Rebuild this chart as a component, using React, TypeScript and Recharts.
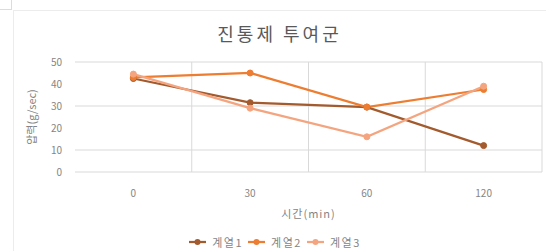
import { CartesianGrid, Legend, Line, LineChart, XAxis, YAxis } from 'recharts'

const times = ['0', '30', '60', '120']
const series1 = [42.5, 31.5, 29.5, 12]
const series2 = [43, 45, 29.5, 37.5]
const series3 = [44.5, 29, 16, 39]
const yTicks = [0, 10, 20, 30, 40, 50]

const seriesNames = ['계열1', '계열2', '계열3']
const seriesColors = ['#A35A2D', '#ED7D31', '#F4A580']

const data = times.map((t, i) => ({
  time: t,
  s1: series1[i],
  s2: series2[i],
  s3: series3[i],
}))

const font = '"Noto Sans CJK KR", "Noto Sans", sans-serif'
const textGray = '#858585'

function LegendBox() {
  return (
    <div
      style={{
        height: 18,
        display: 'flex',
        justifyContent: 'center',
        alignItems: 'center',
        fontFamily: font,
        fontSize: 11,
        letterSpacing: 1.5,
        color: textGray,
      }}
    >
      {seriesNames.map((name, i) => (
        <span key={name} style={{ display: 'flex', alignItems: 'center', marginRight: 5 }}>
          <svg width={17} height={8} style={{ marginRight: 6 }}>
            <line x1={0} y1={4} x2={17} y2={4} stroke={seriesColors[i]} strokeWidth={2.25} />
            <circle cx={8.5} cy={4} r={3} fill={seriesColors[i]} />
          </svg>
          {name}
        </span>
      ))}
    </div>
  )
}

export default function App() {
  return (
    <div
      style={{
        position: 'fixed',
        left: 0,
        top: 0,
        width: 546,
        height: 251,
        background: '#fff',
        overflow: 'hidden',
      }}
    >
      {/* spreadsheet cell corner */}
      <div style={{ position: 'absolute', left: 0, top: 0, width: 11, height: 9, borderRight: '1px solid #dcdcdc', borderBottom: '1px solid #dcdcdc' }} />
      {/* chart border */}
      <div style={{ position: 'absolute', left: 13, top: 10, width: 540, height: 250, border: '1px solid #ececec' }} />
      <div
        style={{
          position: 'absolute',
          left: 13,
          top: 20,
          width: 533,
          textAlign: 'center',
          fontFamily: font,
          fontSize: 18,
          letterSpacing: 3,
          color: '#595959',
        }}
      >
        진통제 투여군
      </div>
      <div style={{ position: 'absolute', left: 13, top: 10 }}>
        <LineChart
          width={533}
          height={241}
          data={data}
          margin={{ top: 52, right: 4, bottom: 0, left: 0 }}
        >
          <CartesianGrid
            stroke="#d9d9d9"
            horizontal
            verticalCoordinatesGenerator={({ offset }: any) =>
              [1, 2, 3, 4].map((i) => offset.left + (i * offset.width) / times.length)
            }
          />
          <XAxis
            dataKey="time"
            type="category"
            scale="band"
            axisLine={false}
            tickLine={false}
            tickSize={0}
            tickMargin={18}
            height={61}
            tick={{ fill: textGray, fontSize: 10, fontFamily: font }}
            label={({ viewBox }: any) => (
              <text
                x={viewBox.x + viewBox.width / 2}
                y={203}
                textAnchor="middle"
                dominantBaseline="central"
                fill={textGray}
                fontSize={11}
                fontFamily={font}
                letterSpacing={1}
              >
                시간(min)
              </text>
            )}
          />
          <YAxis
            domain={[0, 50]}
            ticks={yTicks}
            axisLine={false}
            tickLine={false}
            tickSize={0}
            tickMargin={13}
            width={62}
            tick={{ fill: textGray, fontSize: 10, fontFamily: font }}
            label={({ viewBox }: any) => {
              const cy = viewBox.y + viewBox.height / 2
              return (
                <text
                  x={18}
                  y={cy}
                  transform={`rotate(-90 18 ${cy})`}
                  textAnchor="middle"
                  dominantBaseline="central"
                  fill={textGray}
                  fontSize={11}
                  fontFamily={font}
                >
                  압력(g/sec)
                </text>
              )
            }}
          />
          <Legend verticalAlign="bottom" content={() => <LegendBox />} />
          {['s1', 's2', 's3'].map((key, i) => (
            <Line
              key={key}
              dataKey={key}
              name={seriesNames[i]}
              type="linear"
              stroke={seriesColors[i]}
              strokeWidth={2.25}
              dot={{ r: 3, fill: seriesColors[i], stroke: seriesColors[i], strokeWidth: 1 }}
              activeDot={false}
              isAnimationActive={false}
            />
          ))}
        </LineChart>
      </div>
    </div>
  )
}
